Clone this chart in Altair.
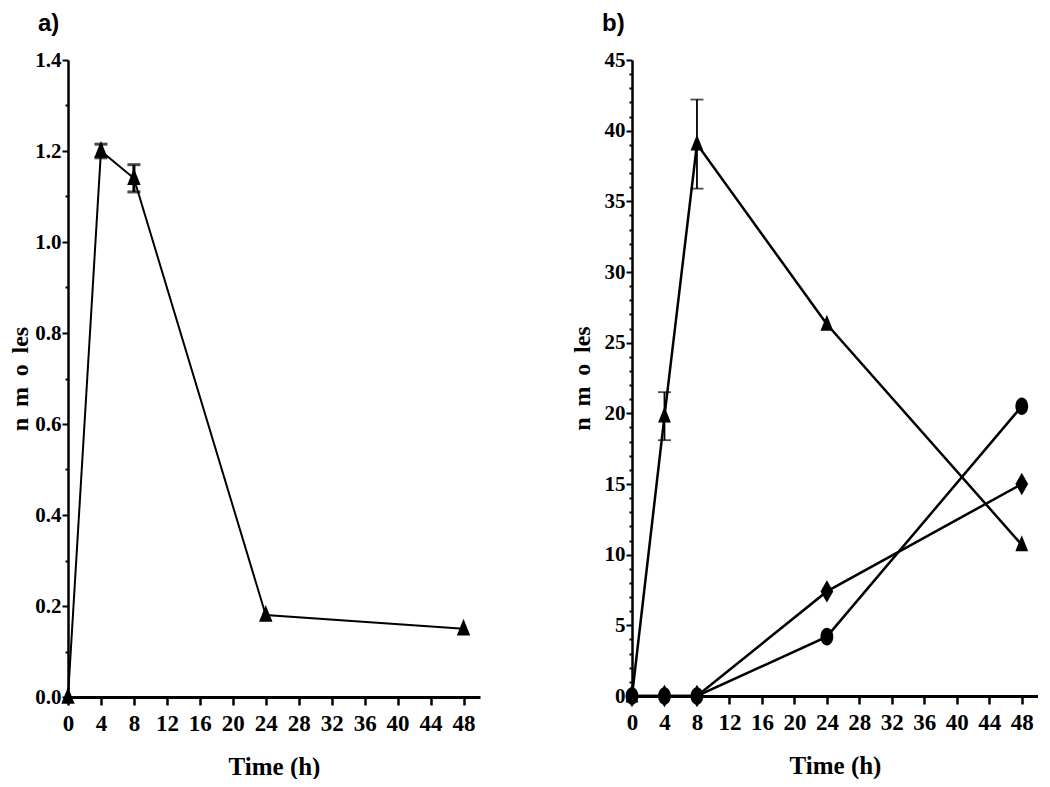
import altair as alt
import pandas as pd

# ---------------- data ----------------
time_a = [0, 4, 8, 24, 48]
nmol_a = [0.0, 1.20, 1.14, 0.18, 0.15]
err_a = [0.0, 0.015, 0.03, 0.0, 0.0]

time_b = [0, 4, 8, 24, 48]
tri_b = [0.0, 19.8, 39.05, 26.3, 10.7]
tri_err_b = [0.0, 1.7, 3.15, 0.0, 0.0]
circ_b = [0.0, 0.0, 0.0, 4.2, 20.5]
diam_b = [0.0, 0.0, 0.0, 7.4, 15.0]

x_ticks = [0, 4, 8, 12, 16, 20, 24, 28, 32, 36, 40, 44, 48]
ya_major = [0.0, 0.2, 0.4, 0.6, 0.8, 1.0, 1.2, 1.4]
ya_minor = [0.1, 0.3, 0.5, 0.7, 0.9, 1.1, 1.3]
yb_major = [0, 5, 10, 15, 20, 25, 30, 35, 40, 45]
yb_minor = [1, 2, 3, 4, 6, 7, 8, 9, 11, 12, 13, 14, 16, 17, 18, 19, 21, 22,
            23, 24, 26, 27, 28, 29, 31, 32, 33, 34, 36, 37, 38, 39, 41, 42,
            43, 44]

Y_TITLE = "n\u2009 m\u2009 o\u2009 les"

SERIES = ["triangle", "circle", "diamond"]
TRI = "M0,-1.2L0.8,0.8L-0.8,0.8Z"
CIRC = "M0,-1.1A0.8,1.1 0 1,1 0,1.1A0.8,1.1 0 1,1 0,-1.1Z"
DIAM = "M0,-1.4L0.8,0L0,1.4L-0.8,0Z"
SHAPES = [TRI, CIRC, DIAM]

FONT = "Liberation Serif"
SANS = "Liberation Sans Narrow, Liberation Sans, Arial, sans-serif"


def frame(times, series_values):
    rows = []
    for name, vals in series_values:
        for t, v in zip(times, vals):
            rows.append({"time": t, "value": v, "series": name})
    return pd.DataFrame(rows)


def err_frames(times, vals, errs):
    rules, caps = [], []
    for t, v, e in zip(times, vals, errs):
        if e > 0:
            rules.append({"time": t, "lo": v - e, "hi": v + e})
            caps.append({"time": t, "cap": v - e})
            caps.append({"time": t, "cap": v + e})
    return pd.DataFrame(rules), pd.DataFrame(caps)


def panel(df, rules, caps, ydom, ymaj, ymin, yfmt, label, width, height,
          lw, cap_w, minor_len, y_title_pad, mark_size):
    xs = alt.Scale(domain=[0, 50], nice=False, zero=False)
    ys = alt.Scale(domain=ydom, nice=False, zero=False)
    xaxis = alt.Axis(values=x_ticks, title="Time (h)", grid=False, tickSize=8,
                     tickWidth=2.5, domainWidth=3, labelPadding=7,
                     titlePadding=19, format="d", labelOverlap=False,
                     labelFlush=False, labelFontSize=23, titleFontSize=25)
    ymajor = alt.Axis(values=ymaj, title=Y_TITLE, orient="left", grid=False,
                      tickSize=6, tickWidth=2, domainWidth=2.5, labelPadding=1,
                      format=yfmt, titlePadding=y_title_pad,
                      labelOverlap=False, labelFlush=False,
                      labelFontSize=21, titleFontSize=24)
    yminor = alt.Axis(values=ymin, title=None, orient="left", grid=False,
                      labels=False, domain=False, tickSize=minor_len,
                      tickWidth=2)

    X = alt.X("time:Q", scale=xs, axis=xaxis)

    line = alt.Chart(df).mark_line(color="black", strokeWidth=lw).encode(
        x=X,
        y=alt.Y("value:Q", scale=ys, axis=ymajor),
        detail="series:N",
    )
    minor = alt.Chart(df).mark_point(opacity=0).encode(
        x=X,
        y=alt.Y("value:Q", scale=ys, axis=yminor),
    )
    rule = alt.Chart(rules).mark_rule(color="black", strokeWidth=cap_w).encode(
        x=X,
        y=alt.Y("lo:Q", scale=ys, axis=None),
        y2="hi:Q",
    )
    cap = alt.Chart(caps).mark_tick(orient="horizontal", color="black",
                                    size=13, thickness=cap_w).encode(
        x=X,
        y=alt.Y("cap:Q", scale=ys, axis=None),
    )
    pts = alt.Chart(df).mark_point(filled=True, color="black", opacity=1,
                                   size=mark_size).encode(
        x=X,
        y=alt.Y("value:Q", scale=ys, axis=None),
        shape=alt.Shape("series:N",
                        scale=alt.Scale(domain=SERIES, range=SHAPES),
                        legend=None),
    )
    return alt.layer(line, minor, rule, cap, pts).resolve_axis(
        y="independent"
    ).properties(
        width=width, height=height,
        title=alt.TitleParams(label, anchor="start", frame="group", dx=-30,
                              offset=13, font=SANS, fontSize=24,
                              fontWeight="bold", color="black"),
    )


df_a = frame(time_a, [("triangle", nmol_a)])
ra, ca = err_frames(time_a, nmol_a, err_a)
pa = panel(df_a, ra, ca, [0, 1.4], ya_major, ya_minor, ".1f", "a)",
           412, 637, 2, 3, 3, 2, 280)

df_b = frame(time_b, [("triangle", tri_b), ("circle", circ_b),
                      ("diamond", diam_b)])
rb, cb = err_frames(time_b, tri_b, tri_err_b)
pb = panel(df_b, rb, cb, [0, 45], yb_major, yb_minor, "d", "b)",
           406, 636, 2.5, 1.8, 3, 10, 256)

chart = alt.hconcat(pa, pb, spacing=90).configure(
    padding={"top": 4, "left": 0, "right": 0, "bottom": 0},
    background="white",
).configure_view(stroke=None).configure_axis(
    domainColor="black", tickColor="black", labelColor="black",
    titleColor="black", labelFont=FONT, titleFont=FONT,
    labelFontWeight="bold", titleFontWeight="bold",
    labelOverlap=False,
)

chart.save("out.html", embed_options={"renderer": "svg", "actions": False})
